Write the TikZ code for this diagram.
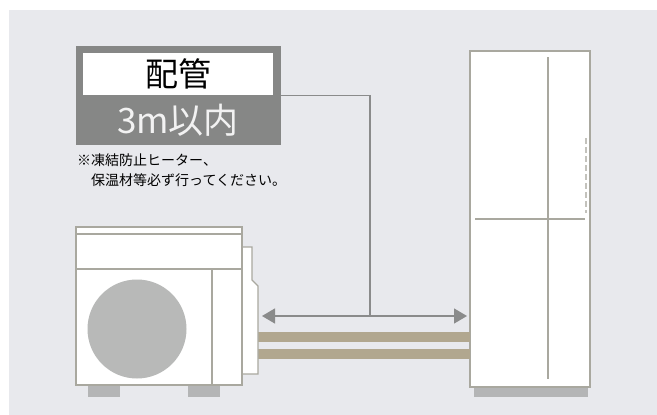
\documentclass[tikz,border=0pt]{standalone}
\usepackage{fontspec}
\setmainfont{Noto Sans CJK JP}
\usetikzlibrary{arrows.meta}

\definecolor{paneBg}{HTML}{E8E9ED}
\definecolor{tagGrey}{HTML}{868786}
\definecolor{rimGrey}{HTML}{A9A89F}
\definecolor{pipeTan}{HTML}{B1A78F}
\definecolor{fanGrey}{HTML}{B8B9B8}
\definecolor{footGrey}{HTML}{B4B5B6}
\definecolor{leadGrey}{HTML}{8A8B8B}

\tikzset{
  rim/.style={draw=rimGrey, line width=1.3pt},
  lead/.style={draw=leadGrey, line width=1.4pt},
  pipe/.style={fill=pipeTan},
  foot/.style={fill=footGrey},
}

\begin{document}
\begin{tikzpicture}[x=1pt,y=-1pt]
\useasboundingbox (0,0) rectangle (657,415);
\fill[paneBg] (9,10) rectangle (657,415);

% length tag
\node[fill=tagGrey, minimum width=205pt, minimum height=99pt, inner sep=0] (tag) at (178.5,95.5) {};
\node[fill=white, minimum width=190pt, minimum height=42pt, inner sep=0,
      font=\fontsize{33}{33}\selectfont] (tagtop) at (178,74) {配管};
\node[text=white!95!black, inner sep=0, font=\fontsize{35}{35}\selectfont] (tagbot) at (178,120) {3m以内};
\node[anchor=north west, align=left, inner sep=0, font=\fontsize{14}{19.5}\selectfont] (note) at (77,154)
  {※凍結防止ヒーター、\\　保温材等必ず行ってください。};

% tank
\fill[footGrey] (474,387) rectangle (588,397);
\node[rim, fill=white, minimum width=120pt, minimum height=336pt, inner sep=0] (tank) at (530,219) {};
\draw[rim] (548,57) -- (548,379);
\draw[rim] (475,219) -- (585,219);
\draw[draw=rimGrey!70, line width=1.4pt, dash pattern=on 6pt off 3pt] (586,138) -- (586,213);

% pipes
\fill[pipe] (258,332) rectangle (470,342);
\fill[pipe] (258,349) rectangle (470,359);

% outdoor unit
\fill[foot] (88,385) rectangle (120,397);
\fill[foot] (188,385) rectangle (220,397);
\draw[rim, fill=white] (242,247) -- (252,247) -- (252,280) -- (258,286) -- (258,374) -- (242,374);
\node[rim, fill=white, minimum width=166pt, minimum height=158pt, inner sep=0] (unit) at (159,306) {};
\draw[rim] (76,234) -- (242,234);
\draw[rim] (76,269) -- (242,269);
\draw[rim] (212,269) -- (212,385);
\fill[fanGrey] (137,329) circle (49.5);

% run length
\coordinate (joint) at (370,316);
\coordinate (unitend) at (262,316);
\coordinate (tankend) at (467,316);
\draw[lead] (tag.east) -| (joint);
\draw[lead, {Triangle[length=13pt,width=15pt]}-{Triangle[length=13pt,width=15pt]}] (unitend) -- (tankend);
\end{tikzpicture}
\end{document}
